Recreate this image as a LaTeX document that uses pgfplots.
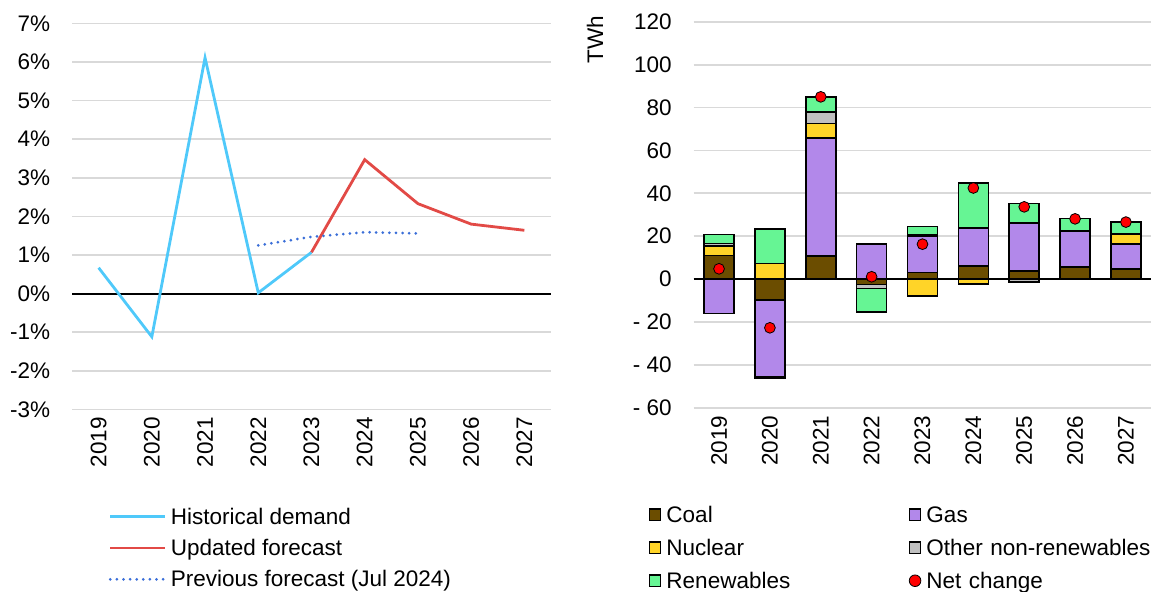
\documentclass[border=0pt]{standalone}
\usepackage{pgfplots}
\pgfplotsset{compat=1.18}
\usepackage{pgfplotstable}
\usepackage{fontspec}
\setmainfont{Liberation Sans}

\definecolor{histc}{RGB}{79,201,250}
\definecolor{updc}{RGB}{226,74,70}
\definecolor{prevc}{RGB}{58,110,216}
\definecolor{coalc}{RGB}{107,77,0}
\definecolor{gasc}{RGB}{178,136,234}
\definecolor{nucc}{RGB}{255,212,40}
\definecolor{othc}{RGB}{192,192,192}
\definecolor{renc}{RGB}{102,245,148}
\definecolor{gridc}{RGB}{217,217,217}

% demand growth, %
\pgfplotstableread{
x hist
0 0.67
1 -1.12
2 6.11
3 0.02
4 1.07
}\histtab
\pgfplotstableread{
x upd
4 1.07
5 3.47
6 2.33
7 1.80
8 1.64
}\updtab
\pgfplotstableread{
x prev
3 1.25
4 1.47
5 1.59
6 1.56
}\prevtab

% change in generation, TWh (positive and negative parts)
\pgfplotstableread{
x coal gas nuc oth ren
0 11.0 0 4.5 1.2 4.2
1 0 0 7.3 0 16.0
2 10.9 54.8 6.8 5.4 7.0
3 0 16.3 0 0 0
4 3.1 17.1 0 0.5 3.9
5 6.2 17.7 0 0 21.0
6 3.9 22.3 0 0 9.0
7 5.7 16.7 0 0 5.9
8 4.8 11.7 4.6 0 5.6
}\postab
\pgfplotstableread{
x coal gas nuc oth ren
0 0 -16.0 0 0 0
1 -9.8 -35.7 0 -0.5 0
2 0 0 0 0 0
3 -2.5 0 0 -1.8 -11.0
4 0 0 -7.9 0 0
5 0 0 -2.3 0 0
6 0 0 0 -1.4 0
7 0 0 0 0 0
8 0 0 0 0 0
}\negtab
\pgfplotstableread{
x net
0 4.8
1 -22.7
2 85.0
3 1.1
4 16.3
5 42.5
6 33.7
7 28.1
8 26.6
}\nettab

\pgfplotsset{
  barax/.style={at={(346.8pt,92.1pt)}, anchor=south west, scale only axis,
    width=228.9pt, height=193pt, xmin=-0.5, xmax=8.5, ymin=-60, ymax=120,
    axis line style={draw=none}, major tick length=0pt},
  seg/.style={draw=black, line width=0.8pt, fill=#1},
  sq/.style={legend image code/.code={\draw[fill=#1, draw=black, line width=0.6pt] (0pt,-1.9pt) rectangle (5.8pt,3.9pt);}},
}

\begin{document}
\fontsize{11.25}{13.5}\selectfont
\begin{tikzpicture}
\useasboundingbox (0,0) rectangle (576pt,296pt);

% left: demand growth
\begin{axis}[at={(36pt,91.3pt)}, anchor=south west, scale only axis,
  width=239.5pt, height=193pt, xmin=-0.5, xmax=8.5, ymin=-3, ymax=7,
  xtick={0,...,8}, xticklabels={2019,2020,2021,2022,2023,2024,2025,2026,2027},
  ytick={-3,...,7}, yticklabels={-3\%,-2\%,-1\%,0\%,1\%,2\%,3\%,4\%,5\%,6\%,7\%},
  ymajorgrids, major grid style={color=gridc, line width=0.85pt},
  axis line style={draw=none}, major tick length=0pt,
  xticklabel style={rotate=90, anchor=east},
  yticklabel style={xshift=-7pt},
  extra y ticks={0}, extra y tick labels={},
  extra y tick style={grid=major, major grid style={black, line width=1pt}},
  legend cell align=left,
  legend image code/.code={\draw[#1] (0pt,1pt) -- (27.5pt,1pt);},
  legend style={at={(axis description cs:0.076,-0.255)}, anchor=north west,
    draw=none, fill=none, inner sep=0pt, row sep=5.15pt,
    nodes={inner xsep=2pt, inner ysep=0pt, text height=8pt, text depth=2.5pt}},
]
\addplot[histc, line width=1.4pt] table[x=x,y=hist]{\histtab};
\addplot[updc, line width=1.4pt] table[x=x,y=upd]{\updtab};
\addplot[prevc, line width=1.5pt, line cap=round, dash pattern=on 0pt off 3.3pt] table[x=x,y=prev]{\prevtab};
\legend{Historical demand, Updated forecast, Previous forecast (Jul 2024)}
\end{axis}

% right: positive stack with grid and labels
\begin{axis}[barax, ybar stacked, bar width=15pt,
  xtick={0,...,8}, xticklabels={2019,2020,2021,2022,2023,2024,2025,2026,2027},
  ytick={-60,-40,...,120}, yticklabels={- 60,- 40,- 20,0,20,40,60,80,100,120},
  ymajorgrids, major grid style={color=gridc, line width=0.85pt},
  xticklabel style={rotate=90, anchor=east},
  yticklabel style={xshift=-7pt},
  ylabel={TWh}, ylabel style={at={(axis description cs:-0.2154,0.953)}, anchor=center},
]
\addplot[seg=coalc] table[x=x,y=coal]{\postab};
\addplot[seg=gasc] table[x=x,y=gas]{\postab};
\addplot[seg=nucc] table[x=x,y=nuc]{\postab};
\addplot[seg=othc] table[x=x,y=oth]{\postab};
\addplot[seg=renc] table[x=x,y=ren]{\postab};
\end{axis}

% right: negative stack
\begin{axis}[barax, ybar stacked, bar width=15pt, xtick=\empty, ytick=\empty]
\addplot[seg=coalc] table[x=x,y=coal]{\negtab};
\addplot[seg=gasc] table[x=x,y=gas]{\negtab};
\addplot[seg=nucc] table[x=x,y=nuc]{\negtab};
\addplot[seg=othc] table[x=x,y=oth]{\negtab};
\addplot[seg=renc] table[x=x,y=ren]{\negtab};
\end{axis}

% right: zero line, net change and legend
\begin{axis}[barax, xtick=\empty, ytick=\empty,
  extra y ticks={0}, extra y tick labels={},
  extra y tick style={grid=major, major grid style={black, line width=1pt}},
  legend columns=2, legend cell align=left,
  legend style={at={(axis description cs:-0.099,-0.254)}, anchor=north west,
    draw=none, fill=none, inner sep=0pt, row sep=6pt,
    nodes={inner xsep=2.5pt, inner ysep=0pt, text height=8pt, text depth=2.5pt,
      text width=118.6pt, align=left}},
]
\addlegendimage{sq=coalc}
\addlegendimage{sq=gasc}
\addlegendimage{sq=nucc}
\addlegendimage{sq=othc}
\addlegendimage{sq=renc}
\addplot[only marks, mark=*, mark size=2.7pt, mark options={fill=red, draw=black, line width=0.4pt},
  legend image code/.code={\draw[fill=red, draw=black, line width=0.4pt] (2.9pt,1pt) circle (2.9pt);}]
  table[x=x,y=net]{\nettab};
\legend{Coal, Gas, Nuclear, Other non-renewables, Renewables, Net change}
\end{axis}
\end{tikzpicture}
\end{document}
